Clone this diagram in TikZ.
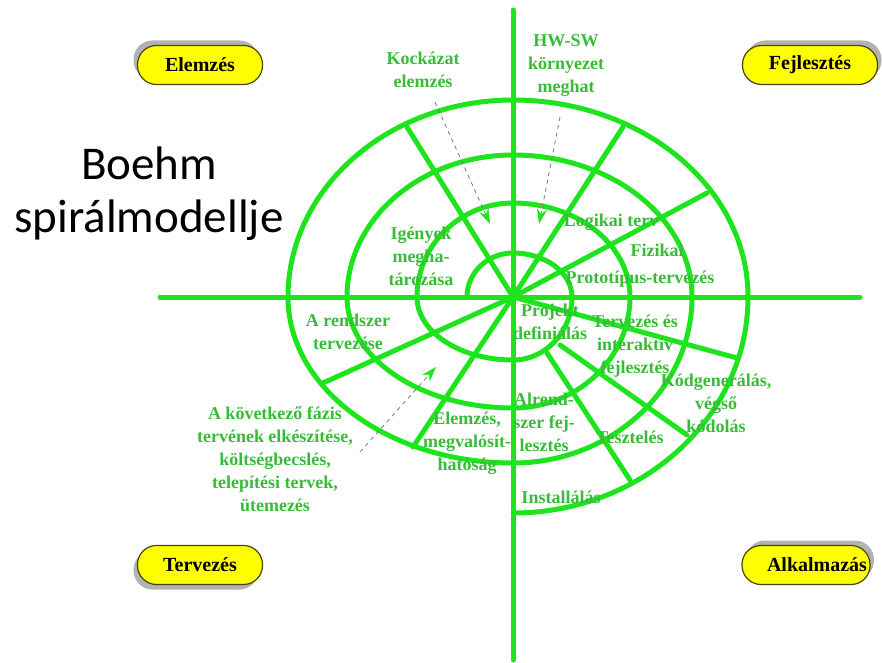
\documentclass[tikz,border=0pt]{standalone}
\usepackage{fontspec}
\setmainfont{Liberation Serif}
\newfontfamily\titlefont{Carlito}
\usetikzlibrary{arrows.meta}
\usetikzlibrary{positioning}

\definecolor{spiralgreen}{RGB}{30,228,30}
\definecolor{labelgreen}{RGB}{55,188,55}
\definecolor{phaseyellow}{RGB}{255,255,0}
\definecolor{phaseedge}{RGB}{70,70,10}
\definecolor{phaseshade}{RGB}{178,178,178}
\definecolor{hintgray}{RGB}{120,120,120}

\tikzset{
  spiral/.style={line width=5pt, spiralgreen, line cap=round},
  lbl/.style={text=labelgreen, font=\fontsize{18}{23}\selectfont\bfseries, align=center, inner sep=0pt},
  phase/.style={draw=phaseedge, line width=1.2pt, fill=phaseyellow, rounded corners=19pt,
    minimum width=125pt, minimum height=39pt, inner sep=0pt, font=\fontsize{20}{22}\selectfont\bfseries},
  phaseshadow/.style={fill=phaseshade, rounded corners=19pt, minimum width=125pt, minimum height=39pt},
  hint/.style={hintgray, line width=0.8pt, dash pattern=on 4pt off 4pt,
    -{Stealth[length=15pt,width=10pt,color=spiralgreen]}}
}

\begin{document}
\begin{tikzpicture}[x=1pt, y=1pt]
    \useasboundingbox (0,0) rectangle (882,662);
    \coordinate (O) at (513,365);

    % axes
    \draw[spiral] (513,652) -- (513,2);
    \draw[spiral] (160,365) -- (860,365);

    % spiral, quarter by quarter
    \draw[spiral] (O) ++(180:46)
      \foreach \a/\rx/\ry in {180/46/44, 90/59/44, 0/59/63, -90/96/63,
                              180/96/94, 90/117/94, 0/117/111, -90/166/111,
                              180/166/142, 90/179/142, 0/179/166, -90/225/166,
                              180/225/197, 90/235/197, 0/235/216}
      { arc[start angle=\a, delta angle=-90, x radius=\rx, y radius=\ry] };

    % spokes
    \draw[spiral] (O) -- (407,535);
    \draw[spiral] (O) -- (623,535);
    \draw[spiral] (O) -- (707,469);
    \draw[spiral] (O) -- (737,304);
    \draw[spiral] (560,317) -- (687,227);
    \draw[spiral] (547,309) -- (630,182);
    \draw[spiral] (O) -- (323,279);
    \draw[spiral] (O) -- (413,215);

    % phases
    \node[phaseshadow] at (196,602) {};
    \node[phase] (elemzes) at (200,597) {Elemzés};
    \node[phaseshadow, minimum width=135pt] at (814,602) {};
    \node[phase, minimum width=135pt] (fejlesztes) at (810,597) {Fejlesztés};
    \node[phaseshadow] at (196,92) {};
    \node[phase] (tervezes) at (200,97) {Tervezés};
    \node[phaseshadow, minimum width=128pt] at (810,102) {};
    \node[phase, minimum width=128pt] (alkalmazas) at (806,97) {\makebox[78pt][l]{Alkalmazás}};

    \node[font=\titlefont\fontsize{47}{53}\selectfont, align=center, inner sep=0pt] (title) at (149,468) {Boehm\\spirálmodellje};

    % labels
    \node[lbl] (risk) at (423,592) {Kockázat\\elemzés};
    \node[lbl] (hwsw) at (566,596) {HW-SW\\környezet\\meghat};
    \node[lbl] (igenyek) at (421,406) {Igények\\megha-\\tározása};
    \node[lbl] (logikai) at (611,440) {Logikai terv};
    \node[lbl] (fizikai) at (657,412) {Fizikai};
    \node[lbl] (prototipus) at (640,383) {Prototípus-tervezés};
    \node[lbl] (projekt) at (550,340) {Projekt\\definiálás};
    \node[lbl] (interaktiv) at (635,316) {Tervezés és\\interaktív\\fejlesztés};
    \node[lbl] (kodolas) at (716,259) {Kódgenerálás,\\végső\\kódolás};
    \node[lbl] (alrendszer) at (544,240) {Alrend-\\szer fej-\\lesztés};
    \node[lbl] (teszteles) at (630,225) {Tesztelés};
    \node[lbl] (installalas) at (561,165) {Installálás};
    \node[lbl] (megvalosit) at (467,219) {Elemzés,\\megvalósít-\\hatóság};
    \node[lbl] (rendszer) at (348,330) {A rendszer\\tervezése};
    \node[lbl] (kovetkezo) at (275,203) {A következő fázis\\tervének elkészítése,\\költségbecslés,\\telepítési tervek,\\ütemezés};

    % hints
    \coordinate (riskfoot) at (435,560);
    \coordinate (risktip) at (490,438);
    \coordinate (hwswfoot) at (560,545);
    \coordinate (hwswtip) at (539,438);
    \coordinate (nextfoot) at (360,210);
    \coordinate (nexttip) at (436,295);
    \draw[hint] (riskfoot) -- (risktip);
    \draw[hint] (hwswfoot) -- (hwswtip);
    \draw[hint] (nextfoot) -- (nexttip);
\end{tikzpicture}
\end{document}
